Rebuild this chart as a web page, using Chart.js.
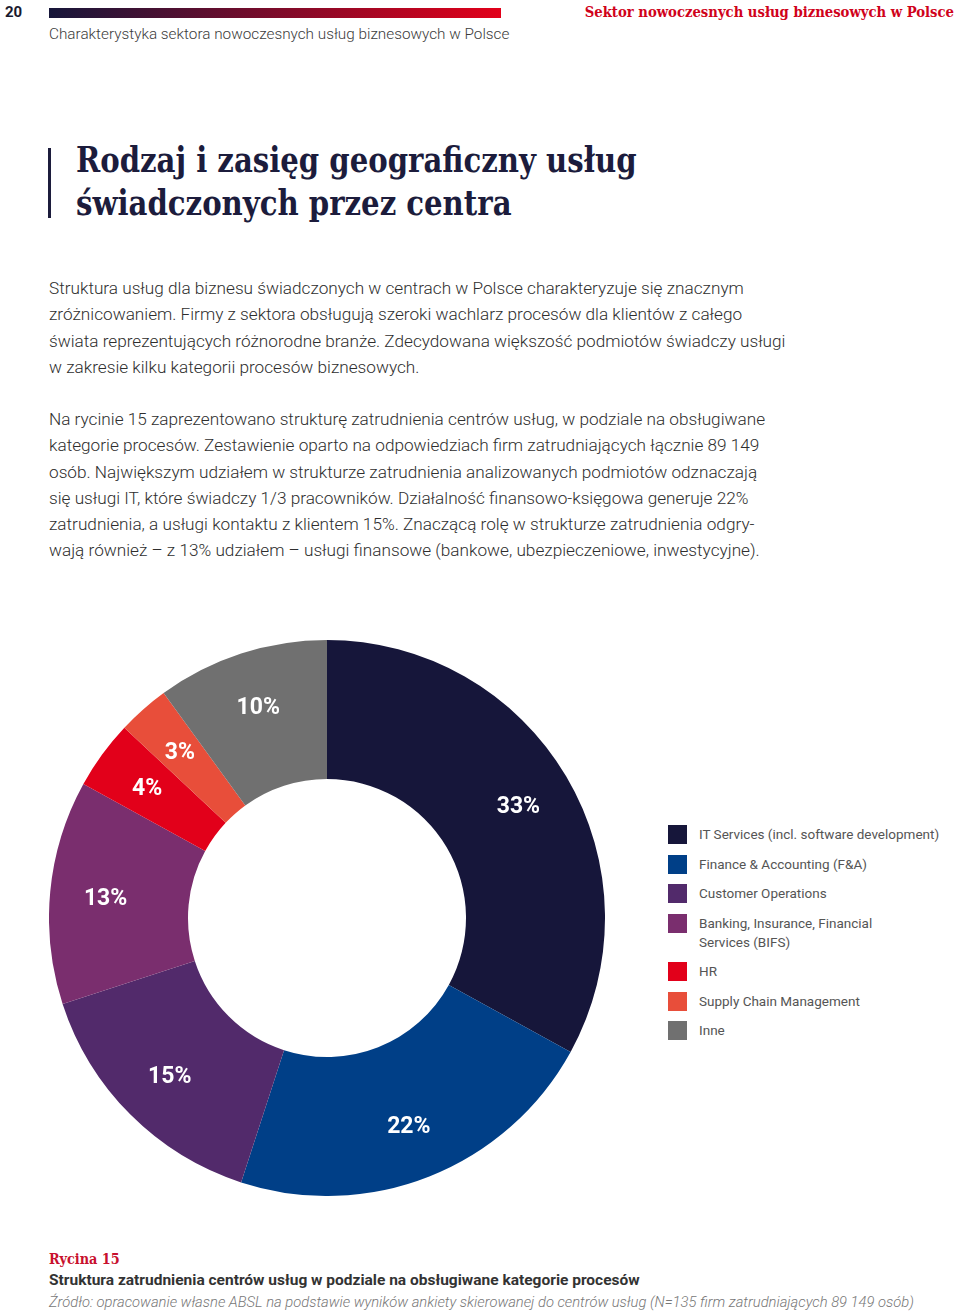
<!DOCTYPE html>
<html lang="pl">
<head>
<meta charset="utf-8">
<script src="https://cdn.jsdelivr.net/npm/chart.js@4.4.0/dist/chart.umd.min.js"></script>
<style>
  body { margin: 0; width: 960px; height: 1314px; background: #fff; position: relative; font-family: Roboto, sans-serif; overflow: hidden; }
  .abs { position: absolute; white-space: nowrap; }
  #pageNo { left: 5px; top: 3px; font-size: 15px; font-weight: 700; color: #1a1a2e; }
  #bar { left: 49px; top: 8px; width: 452px; height: 10px; background: linear-gradient(to right, #16163a, #e2001a); }
  #headRight { right: 6px; top: 3px; font-family: "DejaVu Serif Condensed", "DejaVu Serif", serif; font-weight: 700; font-size: 14.7px; color: #d0021b; }
  #headSub { left: 49px; top: 25px; font-size: 15.3px; font-weight: 300; color: #3c3c3c; }
  #titleBar { left: 48px; top: 148px; width: 3px; height: 70px; background: #1c1c3c; }
  #title { left: 76px; top: 138px; font-family: "DejaVu Serif Condensed", "DejaVu Serif", serif; font-weight: 700; font-size: 36px; line-height: 43px; color: #1c1c3c; transform: scaleX(0.9); transform-origin: 0 0; }
  .para { left: 49px; font-size: 17.2px; font-weight: 300; line-height: 26.3px; color: #2e2e2e; }
  #p1 { top: 275px; }
  #p2 { top: 406px; }
  #chartBox { left: 49px; top: 640px; width: 556px; height: 556px; }
  #legend { left: 668px; top: 825px; font-size: 13.5px; color: #555; }
  .item { position: relative; padding-left: 31px; line-height: 19px; margin-bottom: 10.5px; }
  .sw { position: absolute; left: 0; top: 0; width: 19px; height: 19px; }
  #capLabel { left: 49px; top: 1251px; font-family: "DejaVu Serif Condensed", "DejaVu Serif", serif; font-weight: 700; font-size: 14.3px; color: #c8102e; }
  #capTitle { left: 49px; top: 1271px; font-size: 15.5px; font-weight: 700; color: #333; }
  #capSrc { left: 49px; top: 1293px; font-size: 14.75px; font-weight: 300; font-style: italic; color: #777; }
</style>
</head>
<body>
<div class="abs" id="pageNo">20</div>
<div class="abs" id="bar"></div>
<div class="abs" id="headRight">Sektor nowoczesnych usług biznesowych w Polsce</div>
<div class="abs" id="headSub">Charakterystyka sektora nowoczesnych usług biznesowych w Polsce</div>

<div class="abs" id="titleBar"></div>
<div class="abs" id="title">Rodzaj i zasięg geograficzny usług<br>świadczonych przez centra</div>

<div class="abs para" id="p1">Struktura usług dla biznesu świadczonych w centrach w Polsce charakteryzuje się znacznym<br>zróżnicowaniem. Firmy z sektora obsługują szeroki wachlarz procesów dla klientów z całego<br>świata reprezentujących różnorodne branże. Zdecydowana większość podmiotów świadczy usługi<br>w zakresie kilku kategorii procesów biznesowych.</div>

<div class="abs para" id="p2">Na rycinie 15 zaprezentowano strukturę zatrudnienia centrów usług, w podziale na obsługiwane<br>kategorie procesów. Zestawienie oparto na odpowiedziach firm zatrudniających łącznie 89 149<br>osób. Największym udziałem w strukturze zatrudnienia analizowanych podmiotów odznaczają<br>się usługi IT, które świadczy 1/3 pracowników. Działalność finansowo-księgowa generuje 22%<br>zatrudnienia, a usługi kontaktu z klientem 15%. Znaczącą rolę w strukturze zatrudnienia odgry-<br>wają również – z 13% udziałem – usługi finansowe (bankowe, ubezpieczeniowe, inwestycyjne).</div>

<div class="abs" id="chartBox"><canvas id="donut" width="556" height="556"></canvas></div>
<div class="abs" id="legend"></div>

<div class="abs" id="capLabel">Rycina 15</div>
<div class="abs" id="capTitle">Struktura zatrudnienia centrów usług w podziale na obsługiwane kategorie procesów</div>
<div class="abs" id="capSrc">Źródło: opracowanie własne ABSL na podstawie wyników ankiety skierowanej do centrów usług (N=135 firm zatrudniających 89 149 osób)</div>

<script>
// Data
const categories = [
  'IT Services (incl. software development)',
  'Finance & Accounting (F&A)',
  'Customer Operations',
  ['Banking, Insurance, Financial', 'Services (BIFS)'],
  'HR',
  'Supply Chain Management',
  'Inne'
];
const shares = [33, 22, 15, 13, 4, 3, 10];
const colors = ['#16163a', '#003f87', '#522a6b', '#7a2e6e', '#e2001a', '#e84e3a', '#707070'];

// HTML legend built from the same arrays
const legendEl = document.getElementById('legend');
categories.forEach(function(cat, i) {
  const item = document.createElement('div');
  item.className = 'item';
  const sw = document.createElement('span');
  sw.className = 'sw';
  sw.style.background = colors[i];
  item.appendChild(sw);
  const lines = Array.isArray(cat) ? cat : [cat];
  item.appendChild(document.createTextNode(lines[0]));
  for (let k = 1; k < lines.length; k++) {
    item.appendChild(document.createElement('br'));
    item.appendChild(document.createTextNode(lines[k]));
  }
  legendEl.appendChild(item);
});

// Percent labels drawn inside each slice
const sliceLabels = {
  id: 'sliceLabels',
  afterDatasetsDraw(chart) {
    const ctx = chart.ctx;
    const meta = chart.getDatasetMeta(0);
    ctx.save();
    ctx.fillStyle = '#ffffff';
    ctx.font = '700 23px Roboto, sans-serif';
    ctx.textAlign = 'center';
    ctx.textBaseline = 'middle';
    meta.data.forEach(function(arc, i) {
      const p = arc.getProps(['x', 'y', 'startAngle', 'endAngle', 'outerRadius'], true);
      const mid = (p.startAngle + p.endAngle) / 2;
      const r = p.outerRadius * 0.8;
      ctx.fillText(shares[i] + '%', p.x + Math.cos(mid) * r, p.y + Math.sin(mid) * r + 2);
    });
    ctx.restore();
  }
};

new Chart(document.getElementById('donut').getContext('2d'), {
  type: 'doughnut',
  data: {
    labels: categories.map(c => Array.isArray(c) ? c.join(' ') : c),
    datasets: [{
      data: shares,
      backgroundColor: colors,
      borderWidth: 0
    }]
  },
  options: {
    responsive: false,
    animation: false,
    cutout: '50%',
    layout: { padding: 0 },
    plugins: {
      legend: { display: false },
      tooltip: { enabled: false }
    }
  },
  plugins: [sliceLabels]
});
</script>
</body>
</html>
